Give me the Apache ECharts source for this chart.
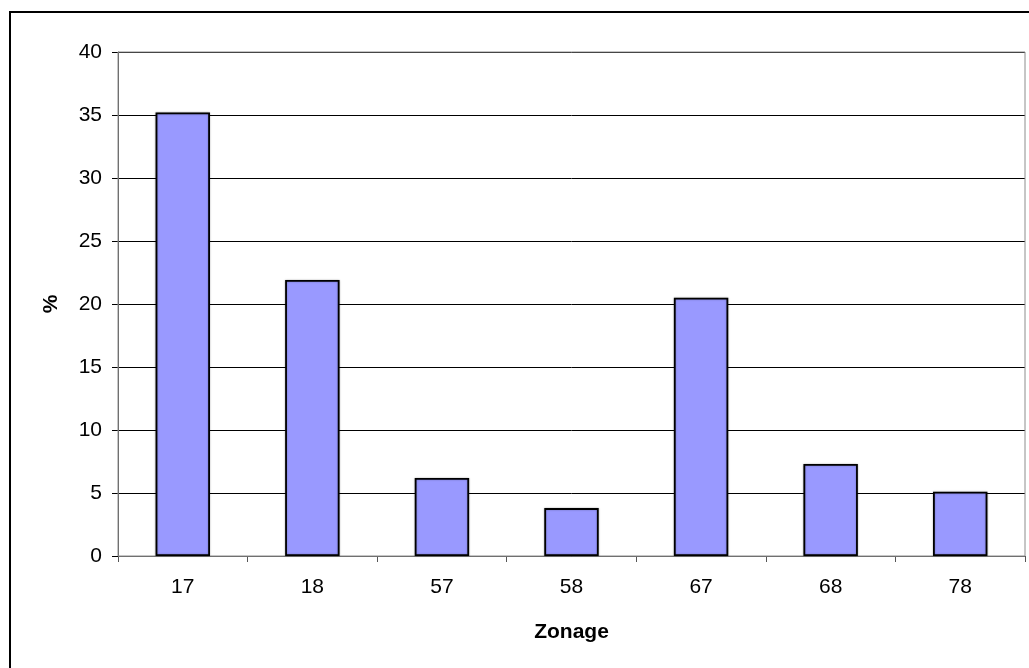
<!DOCTYPE html>
<html>
<head>
<meta charset="utf-8">
<script src="https://cdn.jsdelivr.net/npm/echarts@6/dist/echarts.min.js"></script>
<style>
html,body{margin:0;padding:0;background:#fff;}
#chart{width:1029px;height:668px;}
</style>
</head>
<body>
<div id="chart"></div>
<script>
// Share of records by zoning code (%)
const categories = ['17', '18', '57', '58', '67', '68', '78'];
const percentages = [35.2, 21.9, 6.2, 3.8, 20.5, 7.3, 5.1];
const yTicks = [0, 5, 10, 15, 20, 25, 30, 35, 40];

const chart = echarts.init(document.getElementById('chart'), null, { renderer: 'canvas' });
const font = 'Liberation Sans, Arial, sans-serif';

chart.setOption({
  animation: false,
  backgroundColor: '#ffffff',
  graphic: [
    {
      type: 'rect',
      shape: { x: 10, y: 12, width: 1040, height: 700 },
      style: { fill: 'none', stroke: '#000', lineWidth: 2 },
      z: 0
    },
    {
      type: 'rect',
      shape: { x: 118, y: 52, width: 907, height: 504 },
      style: { fill: 'none', stroke: '#8c8c8c', lineWidth: 1 },
      z: 1
    }
  ],
  grid: { left: 118, right: 4, top: 52, bottom: 112, containLabel: false },
  xAxis: {
    type: 'category',
    data: categories,
    name: 'Zonage',
    nameLocation: 'middle',
    nameGap: 66,
    nameTextStyle: { fontFamily: font, fontSize: 21, fontWeight: 'bold', color: '#000' },
    axisLine: { show: true, lineStyle: { color: '#555', width: 1 } },
    axisTick: { show: true, alignWithLabel: false, length: 6, lineStyle: { color: '#555' } },
    axisLabel: { fontFamily: font, fontSize: 21, color: '#000', margin: 21 },
    splitLine: { show: false }
  },
  yAxis: {
    type: 'value',
    min: yTicks[0],
    max: yTicks[yTicks.length - 1],
    interval: yTicks[1] - yTicks[0],
    name: '%',
    nameLocation: 'middle',
    nameGap: 56,
    nameRotate: 90,
    nameTextStyle: { fontFamily: font, fontSize: 21, fontWeight: 'bold', color: '#000' },
    axisLine: { show: true, lineStyle: { color: '#555', width: 1 } },
    axisTick: { show: true, length: 6, lineStyle: { color: '#000' } },
    axisLabel: { fontFamily: font, fontSize: 21, color: '#000', margin: 16 },
    splitLine: { show: true, lineStyle: { color: '#000', width: 1 } }
  },
  series: [{
    type: 'bar',
    data: percentages,
    barCategoryGap: '58%',
    itemStyle: {
      color: '#9999ff',
      borderColor: '#000',
      borderWidth: 1.8,
      shadowColor: 'rgba(0,0,0,0.3)',
      shadowBlur: 2
    },
    z: 3
  }]
});
</script>
</body>
</html>
